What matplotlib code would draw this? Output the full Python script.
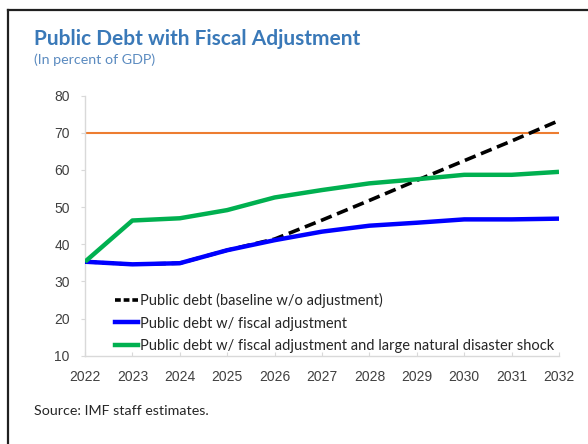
import matplotlib
matplotlib.use("Agg")
import matplotlib.pyplot as plt
from matplotlib.lines import Line2D

years = [2022, 2023, 2024, 2025, 2026, 2027, 2028, 2029, 2030, 2031, 2032]
baseline = [35.3, 34.6, 34.9, 38.4, 41.4, 46.5, 51.8, 57.2, 62.5, 67.8, 73.3]
fiscal_adj = [35.3, 34.6, 34.9, 38.4, 41.1, 43.4, 45.0, 45.8, 46.7, 46.7, 46.9]
disaster = [35.3, 46.4, 47.0, 49.2, 52.6, 54.6, 56.4, 57.5, 58.7, 58.7, 59.5]
threshold = 70
y_ticks = [10, 20, 30, 40, 50, 60, 70, 80]
labels = ["Public debt (baseline w/o adjustment)",
          "Public debt w/ fiscal adjustment",
          "Public debt w/ fiscal adjustment and large natural disaster shock"]
title = "Public Debt with Fiscal Adjustment"
subtitle = "(In percent of GDP)"
source = "Source: IMF staff estimates."

W, H = 588, 444
fig = plt.figure(figsize=(W / 100, H / 100), dpi=100)
fig.patch.set_facecolor("white")

# axes placement in pixels
x0, x1 = 85, 559
y_top, y_bot = 95.7, 355.7
ax = fig.add_axes([x0 / W, 1 - y_bot / H, (x1 - x0) / W, (y_bot - y_top) / H])

ax.axhline(threshold, color="#ED7D31", lw=1.5, zorder=2)
ax.plot(years, baseline, color="black", lw=2.6, ls=(0, (3.2, 1.6)), zorder=3)
ax.plot(years, fiscal_adj, color="#0000FF", lw=3.2, zorder=4, solid_capstyle="butt")
ax.plot(years, disaster, color="#00B050", lw=3.2, zorder=5, solid_capstyle="butt")

ax.set_xlim(years[0], years[-1])
ax.set_ylim(y_ticks[0], y_ticks[-1])
ax.set_xticks(years)
ax.set_yticks(y_ticks)
ax.tick_params(axis="x", direction="in", length=3, color="#D9D9D9", pad=10,
               labelsize=10, labelcolor="#404040")
ax.tick_params(axis="y", direction="out", length=3, color="#D9D9D9", pad=8,
               labelsize=10, labelcolor="#404040")
for lab in ax.get_xticklabels() + ax.get_yticklabels():
    lab.set_fontfamily("Liberation Sans")
for s in ["top", "right"]:
    ax.spines[s].set_visible(False)
for s in ["left", "bottom"]:
    ax.spines[s].set_color("#D9D9D9")
    ax.spines[s].set_linewidth(1.0)

handles = [Line2D([], [], color="black", lw=2.6, ls=(0, (1.6, 0.8))),
           Line2D([], [], color="#0000FF", lw=3.2),
           Line2D([], [], color="#00B050", lw=3.2)]
leg = ax.legend(handles, labels, loc="lower left", bbox_to_anchor=(0.045, -0.022),
                frameon=False, handlelength=1.6, handletextpad=0.1,
                labelspacing=0.56, borderaxespad=0.2,
                prop={"family": "Lato", "size": 10.5})
for t in leg.get_texts():
    t.set_color("#262626")

fig.text(34 / W, 1 - 39 / H, title, fontsize=15, fontweight="bold",
         color="#3A79B8", family="Lato", va="center", ha="left")
fig.text(34 / W, 1 - 60 / H, subtitle, fontsize=10.3, color="#5B8BC0",
         family="Lato", va="center", ha="left")
fig.text(34 / W, 1 - 411 / H, source, fontsize=10.3, color="#262626",
         family="Lato", va="center", ha="left")

# frame lines (top and left)
fig.add_artist(Line2D([8 / W, 1], [1 - 10 / H, 1 - 10 / H], color="#202020", lw=1.6,
                      transform=fig.transFigure))
fig.add_artist(Line2D([8 / W, 8 / W], [1 - 10 / H, 0], color="#202020", lw=1.6,
                      transform=fig.transFigure))

fig.savefig("out.png", dpi=100)
